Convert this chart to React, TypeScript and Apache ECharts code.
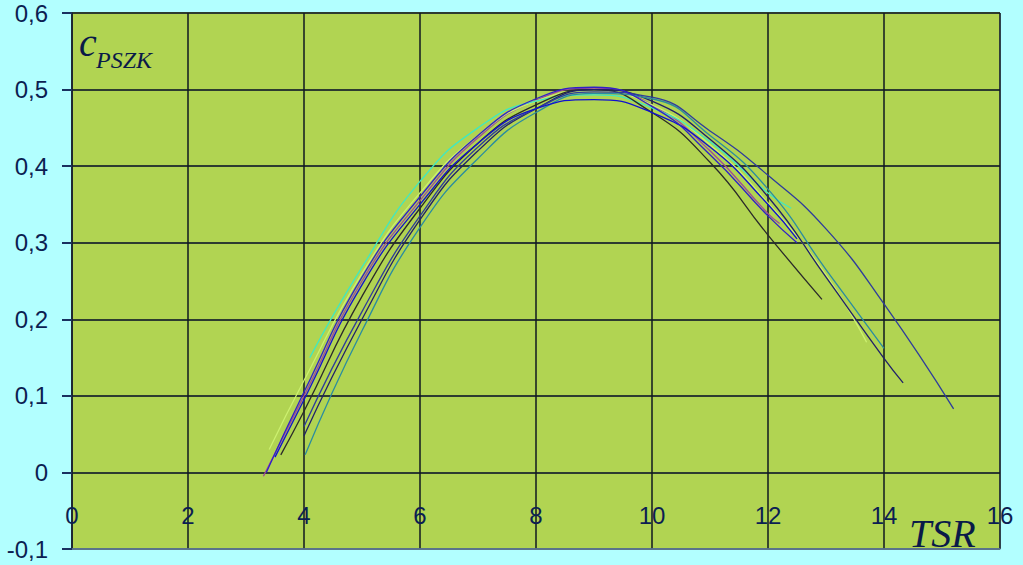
import React, { useEffect, useRef } from "react";
import * as echarts from "echarts";

// TSR (x) and c_PSZK (y) pairs
const curvePurple: number[][] = [[3.3, -0.005], [4, 0.1], [5, 0.25], [6, 0.355], [7, 0.437], [8, 0.486], [9, 0.502], [10, 0.48], [11, 0.42], [12, 0.338], [12.2, 0.325]];
const curveBlue: number[][] = [[3.35, 0.0], [4, 0.105], [5, 0.255], [6, 0.36], [7, 0.44], [8, 0.488], [9, 0.503], [10, 0.478], [11, 0.415], [12, 0.335], [12.5, 0.3]];
const curveAqua: number[][] = [[4.1, 0.15], [5, 0.268], [6, 0.38], [7, 0.45], [8, 0.485], [9, 0.493], [10, 0.476], [11, 0.432], [12, 0.365], [12.4, 0.345]];
const curveLightGreen: number[][] = [[3.4, 0.03], [4, 0.12], [5, 0.26], [6, 0.365], [7, 0.44], [8, 0.485], [9, 0.498], [10, 0.48], [11, 0.428], [12, 0.352], [13, 0.258], [13.7, 0.17]];
const curveBlack: number[][] = [[3.6, 0.023], [4, 0.08], [5, 0.23], [6, 0.345], [7, 0.43], [8, 0.48], [9, 0.5], [10, 0.47], [11, 0.405], [12, 0.31], [12.93, 0.226]];
const curveNavy: number[][] = [[4.0, 0.048], [5, 0.2], [6, 0.33], [7, 0.42], [8, 0.475], [9, 0.5], [10, 0.485], [11, 0.435], [12, 0.36], [13, 0.255], [14, 0.149], [14.33, 0.117]];
const curveTeal: number[][] = [[4.02, 0.023], [5, 0.185], [6, 0.32], [7, 0.41], [8, 0.47], [9, 0.495], [10, 0.488], [11, 0.44], [12, 0.37], [13, 0.265], [14, 0.162]];
const curveLongBlue: number[][] = [[4.0, 0.06], [5, 0.21], [6, 0.335], [7, 0.425], [8, 0.475], [9, 0.497], [10, 0.49], [11, 0.446], [12, 0.388], [13, 0.318], [14, 0.22], [15.2, 0.083]];
const curveRoyal: number[][] = [[3.5, 0.02], [4, 0.095], [5, 0.245], [6, 0.35], [7, 0.43], [8, 0.475], [9, 0.487], [10, 0.47], [11, 0.425], [12, 0.35], [12.5, 0.305]];

const curves = [
  { name: "purple", data: curvePurple, color: "#a0489a" },
  { name: "lightgreen", data: curveLightGreen, color: "#ccf070" },
  { name: "aqua", data: curveAqua, color: "#40e8c0" },
  { name: "black", data: curveBlack, color: "#2a2a2a" },
  { name: "navy", data: curveNavy, color: "#20206a" },
  { name: "teal", data: curveTeal, color: "#2a8ca0" },
  { name: "longblue", data: curveLongBlue, color: "#2e3c9c" },
  { name: "royal", data: curveRoyal, color: "#1010d0" },
  { name: "blue", data: curveBlue, color: "#3020c8" },
];

const xTicks = { min: 0, max: 16, interval: 2 };
const yTicks = { min: -0.1, max: 0.6, interval: 0.1 };

export default function App() {
  const ref = useRef<HTMLDivElement>(null);
  useEffect(() => {
    document.body.style.margin = "0";
    const chart = echarts.init(ref.current!, null, { renderer: "svg" });
    const textColor = "#0c1e52";
    chart.setOption({
      animation: false,
      backgroundColor: "#b2ffff",
      grid: {
        left: 72,
        right: 23,
        top: 13,
        bottom: 16,
        containLabel: false,
        outerBoundsMode: "none",
        show: true,
        backgroundColor: "#b1d452",
        borderColor: "#6a88a8",
        borderWidth: 1,
      },
      xAxis: {
        type: "value",
        min: xTicks.min,
        max: xTicks.max,
        interval: xTicks.interval,
        axisLine: { show: true, onZero: false, lineStyle: { color: "#6a88a8", width: 1.5 } },
        axisTick: { show: false },
        axisLabel: {
          inside: true,
          margin: 22,
          fontSize: 24,
          fontFamily: "Liberation Sans, Arial, sans-serif",
          color: textColor,
        },
        splitLine: { show: true, lineStyle: { color: "#101820", width: 1.5 } },
      },
      yAxis: {
        type: "value",
        min: yTicks.min,
        max: yTicks.max,
        interval: yTicks.interval,
        axisLine: { show: true, onZero: false, lineStyle: { color: "#1a2030", width: 1.5 } },
        axisTick: { show: true, length: 10, lineStyle: { color: "#1a3060", width: 2 } },
        axisLabel: {
          margin: 24,
          fontSize: 24,
          fontFamily: "Liberation Sans, Arial, sans-serif",
          color: textColor,
          formatter: (v: number) => (Math.abs(v) < 1e-9 ? "0" : v.toFixed(1).replace(".", ",")),
        },
        splitLine: { show: true, lineStyle: { color: "#2d3b30", width: 2 } },
      },
      series: curves.map((c) => ({
        type: "line",
        name: c.name,
        data: c.data,
        smooth: true,
        showSymbol: false,
        lineStyle: { color: c.color, width: 1.3 },
        itemStyle: { color: c.color },
      })),
      graphic: [
        {
          type: "text",
          left: 79,
          top: 22,
          style: {
            text: "c",
            fontSize: 40,
            fontStyle: "italic",
            fontFamily: "Liberation Serif, Times New Roman, serif",
            fill: "#0a1a48",
          },
        },
        {
          type: "text",
          left: 96,
          top: 48,
          style: {
            text: "PSZK",
            fontSize: 24,
            fontStyle: "italic",
            fontFamily: "Liberation Serif, Times New Roman, serif",
            fill: "#0a1a48",
          },
        },
        {
          type: "text",
          left: 909,
          top: 513,
          style: {
            text: "TSR",
            fontSize: 40,
            fontStyle: "italic",
            fontFamily: "Liberation Serif, Times New Roman, serif",
            fill: "#0a1a48",
          },
        },
      ],
    });
    return () => chart.dispose();
  }, []);
  return <div ref={ref} style={{ width: 1023, height: 565 }} />;
}
